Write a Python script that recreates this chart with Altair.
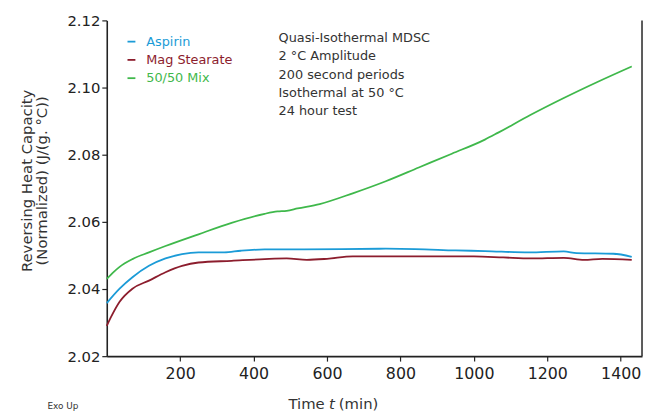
import altair as alt
import pandas as pd

# ---------------- data ----------------
series_names = ["Aspirin", "Mag Stearate", "50/50 Mix"]
series_colors = ["#1b9bd7", "#8c1d2d", "#3fb84b"]

aspirin_t = [0, 35, 70, 115, 160, 205, 250, 320, 365, 430, 520, 640, 760, 840, 950, 1030, 1150, 1245, 1280, 1380, 1430]
aspirin_v = [2.0358, 2.0401, 2.0435, 2.0469, 2.0491, 2.0504, 2.0509, 2.0509, 2.0514, 2.0518, 2.0518, 2.0519,
             2.0520, 2.0519, 2.0515, 2.0513, 2.0509, 2.0512, 2.0507, 2.0505, 2.0496]

stearate_t = [0, 10, 35, 70, 115, 160, 205, 250, 340, 430, 490, 545, 600, 670, 800, 1000, 1080, 1155, 1245, 1300, 1350, 1430]
stearate_v = [2.0290, 2.0313, 2.0362, 2.0401, 2.0425, 2.0450, 2.0469, 2.0479, 2.0484, 2.0489, 2.0491, 2.0487,
              2.0490, 2.0497, 2.0497, 2.0497, 2.0494, 2.0491, 2.0493, 2.0487, 2.0490, 2.0487]

mix_t = [0, 20, 35, 70, 115, 160, 250, 340, 430, 465, 490, 520, 580, 670, 760, 850, 940, 1030, 1065, 1155, 1245, 1335, 1430]
mix_v = [2.0430, 2.0452, 2.0466, 2.0489, 2.0509, 2.0528, 2.0563, 2.0597, 2.0624, 2.0631, 2.0633, 2.0640, 2.0653,
         2.0685, 2.0721, 2.0762, 2.0803, 2.0845, 2.0865, 2.0919, 2.0969, 2.1016, 2.1063]

x_ticks = [200, 400, 600, 800, 1000, 1200, 1400]
y_ticks = [2.02, 2.04, 2.06, 2.08, 2.10, 2.12]

annotation_lines = ["Quasi-Isothermal MDSC", "2 °C Amplitude", "200 second periods",
                    "Isothermal at 50 °C", "24 hour test"]

y_title = ["Reversing Heat Capacity", "(Normalized) (J/(g. °C))"]

# ---------------- build tables ----------------
frames = []
for name, ts, vs in zip(series_names, [aspirin_t, stearate_t, mix_t], [aspirin_v, stearate_v, mix_v]):
    frames.append(pd.DataFrame({"t": ts, "v": vs, "series": name}))
df = pd.concat(frames, ignore_index=True)

legend_df = pd.DataFrame({"name": series_names, "col": series_colors, "i": range(len(series_names))})
annot_df = pd.DataFrame({"line": annotation_lines, "i": range(len(annotation_lines))})
one = pd.DataFrame({"a": [0]})

FONT = "DejaVu Sans"
W, H = 542, 340
AX = "#222222"

lines = alt.Chart(df).mark_line(strokeWidth=1.8, interpolate="monotone").encode(
    x=alt.X("t:Q",
            scale=alt.Scale(domain=[0, 1458], nice=False, zero=False),
            axis=alt.Axis(values=x_ticks, format="d", title=None, grid=False, labelFont=FONT, labelFontSize=16,
                          labelColor=AX, tickColor=AX, tickSize=5, tickWidth=1.2, domainColor=AX,
                          domainWidth=1.6, labelPadding=5)),
    y=alt.Y("v:Q",
            scale=alt.Scale(domain=[2.02, 2.12], nice=False, zero=False),
            axis=alt.Axis(values=y_ticks, format=".2f", title=y_title, grid=False, labelFont=FONT,
                          labelFontSize=15, labelColor=AX, tickColor=AX, tickSize=5, tickWidth=1.2,
                          domainColor=AX, domainWidth=1.6, labelPadding=2,
                          titleFont=FONT, titleFontSize=15, titleFontWeight="normal", titleColor="#333333",
                          titleX=-76, titleY=162, titleAngle=270, titleAlign="center",
                          titleBaseline="alphabetic", titleLineHeight=15)),
    color=alt.Color("series:N", scale=alt.Scale(domain=series_names, range=series_colors), legend=None),
    detail="series:N",
)

# right border
border = alt.Chart(one).mark_rule(color="#333333", strokeWidth=1.6).encode(
    x=alt.value(W), y=alt.value(0), y2=alt.value(H)
)

# legend
leg_rules = alt.Chart(legend_df).transform_calculate(ly="21.5 + datum.i * 18.5").mark_rule(strokeWidth=1.8).encode(
    x=alt.value(21), x2=alt.value(29), y=alt.Y("ly:Q", scale=None),
    color=alt.Color("col:N", scale=None)
)
leg_text = alt.Chart(legend_df).transform_calculate(ly="21.5 + datum.i * 18.5").mark_text(
    align="left", baseline="middle", font=FONT, fontSize=13
).encode(
    x=alt.value(40), y=alt.Y("ly:Q", scale=None), text="name:N",
    color=alt.Color("col:N", scale=None)
)

# annotation
annot = alt.Chart(annot_df).transform_calculate(ly="18 + datum.i * 18.5").mark_text(
    align="left", baseline="middle", font=FONT, fontSize=13, color="#333333"
).encode(x=alt.value(174), y=alt.Y("ly:Q", scale=None), text="line:N")

# x-axis title with italic t
xt1 = alt.Chart(one).mark_text(align="left", baseline="alphabetic", font=FONT, fontSize=15,
                               color="#333333").encode(x=alt.value(184), y=alt.value(394), text=alt.value("Time"))
xt2 = alt.Chart(one).mark_text(align="left", baseline="alphabetic", font=FONT, fontSize=15, fontStyle="italic",
                               color="#333333").encode(x=alt.value(225), y=alt.value(394), text=alt.value("t"))
xt3 = alt.Chart(one).mark_text(align="left", baseline="alphabetic", font=FONT, fontSize=15,
                               color="#333333").encode(x=alt.value(235), y=alt.value(394), text=alt.value("(min)"))

exo = alt.Chart(one).mark_text(align="left", baseline="alphabetic", font=FONT, fontSize=9,
                               color="#333333").encode(x=alt.value(-60), y=alt.value(393), text=alt.value("Exo Up"))

chart = alt.layer(lines, border, leg_rules, leg_text, annot, xt1, xt2, xt3, exo).properties(
    width=W, height=H,
    autosize=alt.AutoSizeParams(type="none"),
    padding={"left": 100, "top": 10, "right": 1, "bottom": 56},
    background="white",
).configure_view(stroke=None)

chart.save("out.html", embed_options={"renderer": "svg", "actions": False})
